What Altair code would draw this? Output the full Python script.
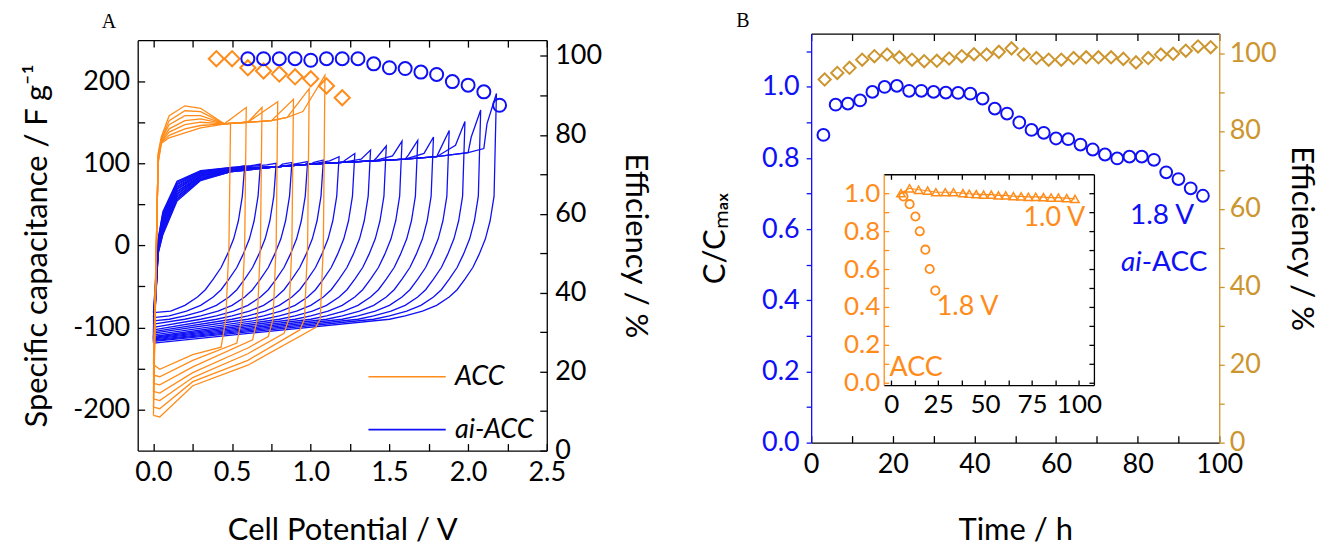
import altair as alt
import pandas as pd

FONT = "Lato"
SERIF = "Liberation Serif"
ORANGE = "#FF8C1A"
BLUE = "#1010F5"
GOLD = "#CC952E"
SERIES = ["ACC", "ai-ACC"]

# ---------------- Panel A : cyclic voltammograms ----------------
ACC_VMAX = [0.5, 0.6, 0.7, 0.8, 0.9, 1.0, 1.1]
ACC_TIP = [149, 168, 168, 175, 178, 191, 207]
ACC_START = [-145, -158, -168, -178, -187, -197, -207]
ACC_UP_003 = [100, 102, 104, 106, 108, 110, 112]
ACC_UP_005 = [124, 125, 126, 127, 129, 130, 132]
ACC_UP_010 = [131, 134, 138, 142, 147, 152, 158]
ACC_UP_020 = [137, 142, 147, 152, 158, 164, 170]
ACC_UP_030 = [143, 146, 150, 154, 158, 163, 167]
ACC_UP_V = [0.45, 0.6, 0.75, 0.85, 0.95, 1.05]
ACC_UP_C = [148, 150, 152, 156, 163, 178]
ACC_RET_DV = [-0.02, -0.04]
ACC_RET_C = [0, -90]
ACC_CORNER = [-124, -119, -115, -111, -107, -103, -100]
ACC_LOW_060 = [-124, -121, -120, -125, -132, -140, -146]
ACC_LOW_025 = [-133, -140, -148, -155, -161, -166, -171]
ACC_LOW_004 = [-151, -160, -170, -180, -189, -199, -209]

AI_VMAX = [0.6, 0.7, 0.8, 0.9, 1.0, 1.1, 1.2, 1.3, 1.4, 1.5, 1.6, 1.7, 1.8, 1.9, 2.0, 2.1, 2.2]
AI_TIP = [97, 99, 100, 101, 102, 104, 108, 112, 116, 121, 127, 128, 132, 140, 151, 165, 185]
AI_PRE = [95, 97, 98, 99, 100, 101, 103, 104, 105, 107, 109, 110, 112, 116, 122, 132, 148]
AI_START = [-82, -88, -92, -96, -100, -103, -105, -107, -109, -111, -112, -113, -114, -115, -116, -117, -119]
AI_UP_003 = [8, 6, 4, 3, 2, 1, 0, -1, -2, -3, -4, -5, -6, -7, -8, -9, -10]
AI_UP_006 = [41, 39, 37, 36, 34, 32, 31, 29, 27, 26, 24, 22, 20, 19, 17, 15, 13]
AI_UP_015 = [78, 77, 75, 74, 72, 71, 69, 68, 66, 65, 63, 62, 60, 59, 57, 56, 54]
AI_UP_030 = [91, 90, 90, 89, 88, 87, 87, 86, 85, 84, 84, 83, 82, 81, 80, 80, 79]
AI_UP_050 = [95, 95, 94, 94, 94, 93, 93, 93, 92, 92, 92, 91, 91, 91, 90, 90, 90]
AI_UP_V = [0.8, 1.0, 1.2, 1.4, 1.6, 1.8, 2.0, 2.1]
AI_UP_C = [96, 99, 101, 103, 105, 108, 113, 118]
AI_RET_DV = [-0.035, -0.06, -0.09, -0.13, -0.17, -0.22, -0.27, -0.32, -0.40, -0.49, -0.60, -0.70]
AI_RET_C = [60, 30, 8, -11, -27, -41, -54, -63, -73, -80, -86, -90]

ACC_EFF_V = [0.4, 0.5, 0.6, 0.7, 0.8, 0.9, 1.0, 1.1, 1.2]
ACC_EFF = [99.3, 99.3, 97.0, 96.2, 95.4, 94.7, 94.2, 92.4, 89.4]
AI_EFF_V = [0.6, 0.7, 0.8, 0.9, 1.0, 1.1, 1.2, 1.3, 1.4, 1.5, 1.6, 1.7, 1.8, 1.9, 2.0, 2.1, 2.2]
AI_EFF = [99.3, 99.3, 99.3, 99.3, 98.9, 99.3, 99.3, 99.3, 98.0, 97.0, 96.8, 95.9, 95.3, 93.5, 92.6, 90.9, 87.5]

A_XTICKS = [0.0, 0.25, 0.5, 0.75, 1.0, 1.25, 1.5, 1.75, 2.0, 2.25, 2.5]
A_YTICKS = [-200, -150, -100, -50, 0, 50, 100, 150, 200]
A_ETICKS = [0, 10, 20, 30, 40, 50, 60, 70, 80, 90, 100]

# ---------------- Panel B : cycling stability ----------------
B_T = [3, 6, 9, 12, 15, 18, 21, 24, 27, 30, 33, 36, 39, 42, 45, 48,
       51, 54, 57, 60, 63, 66, 69, 72, 75, 78, 81, 84, 87, 90, 93, 96]
B_C = [0.865, 0.950, 0.953, 0.962, 0.986, 1.000, 1.003, 0.989, 0.989, 0.986, 0.984, 0.983,
       0.981, 0.967, 0.939, 0.925, 0.900, 0.879, 0.871, 0.855, 0.853, 0.838, 0.824, 0.810,
       0.799, 0.804, 0.804, 0.795, 0.760, 0.741, 0.715, 0.694]
B_EFF_T = [3.3, 6.4, 9.4, 12.5, 15.5, 18.6, 21.6, 24.7, 27.7, 30.8, 33.8, 36.9, 39.9, 43.0,
           46.0, 49.1, 52.1, 55.2, 58.2, 61.3, 64.3, 67.4, 70.4, 73.5, 76.5, 79.6, 82.6, 85.7,
           88.7, 91.8, 94.8, 97.9]
B_EFF = [93.2, 94.9, 96.2, 98.3, 99.2, 99.6, 98.9, 98.3, 97.9, 98.0, 98.6, 99.2, 99.7, 99.6,
         100.3, 101.2, 99.6, 98.7, 98.3, 98.3, 98.7, 98.9, 98.9, 98.9, 98.5, 97.6, 98.7, 99.6,
         99.8, 100.6, 101.7, 101.5]

IN_T_10 = [5.2, 9.8, 14.6, 19.4, 23.8, 28.8, 33.2, 38.2, 41.6, 45.3, 49.2, 53.3, 57.1, 61.0,
           65.1, 69.2, 73.1, 77.0, 81.1, 85.2, 89.1, 93.5, 97.9]
IN_C_10 = [1.000, 1.026, 1.018, 1.013, 1.005, 1.005, 1.005, 1.000, 0.997, 0.995, 0.992, 0.992,
           0.988, 0.988, 0.984, 0.983, 0.981, 0.981, 0.979, 0.977, 0.977, 0.974, 0.970]
IN_T_18 = [6.5, 9.8, 12.9, 15.2, 18.2, 20.5, 23.5]
IN_C_18 = [0.983, 0.942, 0.877, 0.799, 0.702, 0.600, 0.486]

B_XTICKS = [0, 10, 20, 30, 40, 50, 60, 70, 80, 90, 100]
B_YTICKS = [0.0, 0.1, 0.2, 0.3, 0.4, 0.5, 0.6, 0.7, 0.8, 0.9, 1.0, 1.1]
B_ETICKS = [0, 10, 20, 30, 40, 50, 60, 70, 80, 90, 100]
IN_XTICKS = [0, 12.5, 25, 37.5, 50, 62.5, 75, 87.5, 100]
IN_YTICKS = [0.0, 0.1, 0.2, 0.3, 0.4, 0.5, 0.6, 0.7, 0.8, 0.9, 1.0]

NOTE_TEXT = ["1.8 V"]
NOTE_T = [86.0]
NOTE_C = [0.637]
AI_TEXT = ["ai"]
ACC_TEXT = ["-ACC"]
AIACC_T = [81.0]
AIACC_C = [0.504]
INSET_TEXT = ["1.0 V", "1.8 V", "ACC"]
INSET_TEXT_T = [86.9, 40.7, 13.3]
INSET_TEXT_C = [0.869, 0.40, 0.079]


def acc_loop(k):
    m = ACC_VMAX[k]
    pts = [(0.0, ACC_START[k]), (0.03, ACC_UP_003[k]), (0.05, ACC_UP_005[k]),
           (0.10, ACC_UP_010[k]), (0.20, ACC_UP_020[k]), (0.30, ACC_UP_030[k])]
    pts += [(v, c) for v, c in zip(ACC_UP_V, ACC_UP_C) if v < m - 0.06]
    pts.append((m - 0.01, ACC_TIP[k]))
    pts += [(m + dv, c) for dv, c in zip(ACC_RET_DV, ACC_RET_C)]
    corner = m - 0.07
    pts.append((corner, ACC_CORNER[k]))
    for v, c in ((0.60, ACC_LOW_060[k]), (0.25, ACC_LOW_025[k]), (0.04, ACC_LOW_004[k])):
        if v < corner - 0.05:
            pts.append((v, c))
    pts.append((0.0, ACC_START[k]))
    return pts


def ai_loop(k):
    m = AI_VMAX[k]
    pts = [(0.0, AI_START[k]), (0.03, AI_UP_003[k])]
    band = zip([0.06, 0.15, 0.30, 0.50], [AI_UP_006[k], AI_UP_015[k], AI_UP_030[k], AI_UP_050[k]])
    pts += [(v, c) for v, c in band if v < m - 0.09]
    pts += [(v, c) for v, c in zip(AI_UP_V, AI_UP_C) if v < m - 0.09]
    pts.append((m - 0.08, AI_PRE[k]))
    pts.append((m - 0.02, AI_TIP[k]))
    pts += [(m + dv, c) for dv, c in zip(AI_RET_DV, AI_RET_C) if m + dv > 0.05]
    pts.append((0.0, AI_START[k]))
    return pts


rows = []
for k in range(len(AI_VMAX)):
    for i, (v, c) in enumerate(ai_loop(k)):
        rows.append({"series": "ai-ACC", "loop": f"ai{k:02d}", "i": i, "V": v, "C": c})
for k in range(len(ACC_VMAX)):
    for i, (v, c) in enumerate(acc_loop(k)):
        rows.append({"series": "ACC", "loop": f"zc{k:02d}", "i": i, "V": v, "C": c})
cv_df = pd.DataFrame(rows)

eff_df = pd.DataFrame(
    [{"series": "ACC", "V": v, "E": e} for v, e in zip(ACC_EFF_V, ACC_EFF)]
    + [{"series": "ai-ACC", "V": v, "E": e} for v, e in zip(AI_EFF_V, AI_EFF)]
)

IN7 = alt.ExprRef(expr="-7")
IN5 = alt.ExprRef(expr="-5")


def ax(**kw):
    base = dict(grid=False, labelFont=FONT, labelFontSize=27, titleFont=FONT, titleFontSize=31,
                titleFontWeight="normal", labelColor="black", titleColor="black",
                domainColor="black", tickColor="black", domainWidth=1.3, tickWidth=1.3,
                labelOverlap=False, labelFlush=False)
    base.update(kw)
    return alt.Axis(**base)


def sc(dom, rng=None):
    if rng is None:
        return alt.Scale(domain=dom, nice=False, zero=False)
    return alt.Scale(domain=dom, range=rng, nice=False, zero=False)


A_XDOM = [-0.1, 2.5]
A_YDOM = [-250, 250]
A_EDOM = [0, 104]
A_YRANGE = [418, 6.6]

lines = alt.Chart(cv_df).mark_line(strokeWidth=1.3, clip=True).encode(
    x=alt.X("V:Q", scale=sc(A_XDOM),
            axis=ax(orient="bottom", values=A_XTICKS, tickSize=IN7, labelPadding=16,
                    labelExpr="round(datum.value * 4) % 2 === 0 ? format(datum.value, '.1f') : ''",
                    title="Cell Potential / V", titlePadding=30)),
    y=alt.Y("C:Q", scale=sc(A_YDOM, A_YRANGE),
            axis=ax(orient="left", values=A_YTICKS, tickSize=IN7, labelPadding=15,
                    labelExpr="datum.value % 100 === 0 ? '' + datum.value : ''",
                    title="Specific capacitance / F g⁻¹", titlePadding=19)),
    color=alt.Color("series:N", scale=alt.Scale(domain=SERIES, range=[ORANGE, BLUE]),
                    legend=alt.Legend(title=None, orient="none", legendX=230, legendY=304,
                                      symbolType="stroke", symbolSize=6000, symbolStrokeWidth=1.6,
                                      labelFont=FONT, labelFontSize=27, labelFontStyle="italic",
                                      labelColor="black", labelOffset=8,
                                      rowPadding=alt.ExprRef(expr="-22"))),
    detail="loop:N",
    order="i:Q",
)

pts_a = alt.Chart(eff_df).mark_point(filled=False, strokeWidth=2, opacity=1).encode(
    x=alt.X("V:Q", scale=sc(A_XDOM),
            axis=ax(orient="top", offset=-6.6, values=A_XTICKS, tickSize=IN7, labels=False, title=None)),
    y=alt.Y("E:Q", scale=sc(A_EDOM, A_YRANGE),
            axis=ax(orient="right", values=A_ETICKS, tickSize=IN7, labelPadding=15,
                    labelExpr="datum.value % 20 === 0 ? '' + datum.value : ''",
                    title="Efficiency / %", titlePadding=17)),
    stroke=alt.Stroke("series:N", scale=alt.Scale(domain=SERIES, range=[ORANGE, BLUE]), legend=None),
    shape=alt.Shape("series:N", scale=alt.Scale(domain=SERIES, range=["diamond", "circle"]), legend=None),
    size=alt.Size("series:N", scale=alt.Scale(domain=SERIES, range=[230, 170]), legend=None),
)

panel_a = alt.layer(lines, pts_a).resolve_scale(
    x="independent", y="independent", size="independent", shape="independent"
).properties(
    width=410, height=418,
    title=alt.TitleParams("A", anchor="start", frame="group", font=SERIF, fontSize=20,
                          fontWeight="normal", color="black", dx=-36, offset=2),
)

# ---------------- Panel B ----------------
B_XDOM = [0, 100]
B_YDOM = [0, 1.15]
B_EDOM = [0, 105]
IN_XSC = sc([-4, 108], [72.7, 283.4])
IN_YSC = sc([-0.012, 1.1], [352.3, 141])

cap_df = pd.DataFrame({"t": B_T, "c": B_C})
effb_df = pd.DataFrame({"t": B_EFF_T, "e": B_EFF})
in10_df = pd.DataFrame({"t": IN_T_10, "c": IN_C_10})
in18_df = pd.DataFrame({"t": IN_T_18, "c": IN_C_18})

circles_b = alt.Chart(cap_df).mark_point(shape="circle", filled=False, stroke=BLUE,
                                         strokeWidth=2, size=140, opacity=1).encode(
    x=alt.X("t:Q", scale=sc(B_XDOM),
            axis=ax(orient="bottom", values=B_XTICKS, tickSize=IN7, labelPadding=16,
                    labelExpr="datum.value % 20 === 0 ? '' + datum.value : ''",
                    title="Time / h", titlePadding=38)),
    y=alt.Y("c:Q", scale=sc(B_YDOM),
            axis=ax(orient="left", values=B_YTICKS, tickSize=5, labelPadding=7,
                    labelExpr="round(datum.value * 10) % 2 === 0 ? format(datum.value, '.1f') : ''",
                    labelColor=BLUE, domainColor=BLUE, tickColor=BLUE,
                    title="C/Cₘₐₓ", titlePadding=30)),
)

diamonds_b = alt.Chart(effb_df).mark_point(shape="diamond", filled=False, stroke=GOLD,
                                           strokeWidth=2, size=150, opacity=1).encode(
    x=alt.X("t:Q", scale=sc(B_XDOM),
            axis=ax(orient="top", values=B_XTICKS, tickSize=IN7, labels=False, title=None)),
    y=alt.Y("e:Q", scale=sc(B_EDOM),
            axis=ax(orient="right", values=B_ETICKS, tickSize=5, labelPadding=5,
                    labelExpr="datum.value % 20 === 0 ? '' + datum.value : ''",
                    labelColor=GOLD, domainColor=GOLD, tickColor=GOLD,
                    title="Efficiency / %", titlePadding=8)),
)

note_18 = alt.Chart(pd.DataFrame({"t": NOTE_T, "c": NOTE_C, "s": NOTE_TEXT})).mark_text(
    font=FONT, fontSize=28, color=BLUE, align="center", baseline="middle").encode(
    x=alt.X("t:Q", scale=sc(B_XDOM), axis=None),
    y=alt.Y("c:Q", scale=sc(B_YDOM), axis=None),
    text="s:N",
)
note_ai = alt.Chart(pd.DataFrame({"t": AIACC_T, "c": AIACC_C, "s": AI_TEXT})).mark_text(
    font=FONT, fontSize=28, color=BLUE, align="right", baseline="middle", fontStyle="italic").encode(
    x=alt.X("t:Q", scale=sc(B_XDOM), axis=None),
    y=alt.Y("c:Q", scale=sc(B_YDOM), axis=None),
    text="s:N",
)
note_acc = alt.Chart(pd.DataFrame({"t": AIACC_T, "c": AIACC_C, "s": ACC_TEXT})).mark_text(
    font=FONT, fontSize=28, color=BLUE, align="left", baseline="middle").encode(
    x=alt.X("t:Q", scale=sc(B_XDOM), axis=None),
    y=alt.Y("c:Q", scale=sc(B_YDOM), axis=None),
    text="s:N",
)

inset_line = alt.Chart(in10_df).mark_line(color=ORANGE, strokeWidth=1.2).encode(
    x=alt.X("t:Q", scale=IN_XSC,
            axis=ax(orient="bottom", offset=-57.7, values=IN_XTICKS, tickSize=IN5, labelPadding=12,
                    labelFontSize=26,
                    labelExpr="datum.value % 25 === 0 ? '' + datum.value : ''", title=None)),
    y=alt.Y("c:Q", scale=IN_YSC,
            axis=ax(orient="left", offset=-72.7, values=IN_YTICKS, tickSize=IN5, labelPadding=9,
                    labelFontSize=26, labelColor=ORANGE, domainColor=ORANGE, tickColor=ORANGE,
                    labelExpr="round(datum.value * 10) % 2 === 0 ? format(datum.value, '.1f') : ''",
                    title=None)),
)
inset_tri = alt.Chart(in10_df).mark_point(shape="triangle-up", filled=False, stroke=ORANGE,
                                          strokeWidth=1.5, size=70, opacity=1).encode(
    x=alt.X("t:Q", scale=IN_XSC,
            axis=ax(orient="top", offset=-141, values=IN_XTICKS, tickSize=IN5, labels=False, title=None)),
    y=alt.Y("c:Q", scale=IN_YSC,
            axis=ax(orient="right", offset=-125.6, values=IN_YTICKS, tickSize=IN5, labels=False, title=None)),
)
inset_circ = alt.Chart(in18_df).mark_point(shape="circle", filled=False, stroke=ORANGE,
                                           strokeWidth=1.8, size=70, opacity=1).encode(
    x=alt.X("t:Q", scale=IN_XSC, axis=None),
    y=alt.Y("c:Q", scale=IN_YSC, axis=None),
)
inset_text = alt.Chart(pd.DataFrame({"t": INSET_TEXT_T, "c": INSET_TEXT_C, "s": INSET_TEXT})).mark_text(
    font=FONT, fontSize=27, color=ORANGE, align="center", baseline="middle").encode(
    x=alt.X("t:Q", scale=IN_XSC, axis=None),
    y=alt.Y("c:Q", scale=IN_YSC, axis=None),
    text="s:N",
)

panel_b = alt.layer(circles_b, diamonds_b, note_18, note_ai, note_acc,
                    inset_line, inset_tri, inset_circ, inset_text).resolve_scale(
    x="independent", y="independent"
).properties(
    width=409, height=410,
    title=alt.TitleParams("B", anchor="start", frame="group", font=SERIF, fontSize=20,
                          fontWeight="normal", color="black", dx=-75, offset=2),
)

chart = alt.hconcat(panel_a, panel_b, spacing=49).properties(
    padding={"left": 13, "top": 2, "right": 6, "bottom": 0},
    background="white",
).configure_view(stroke=None)

chart.save("out.html", embed_options={"renderer": "svg", "actions": False})
